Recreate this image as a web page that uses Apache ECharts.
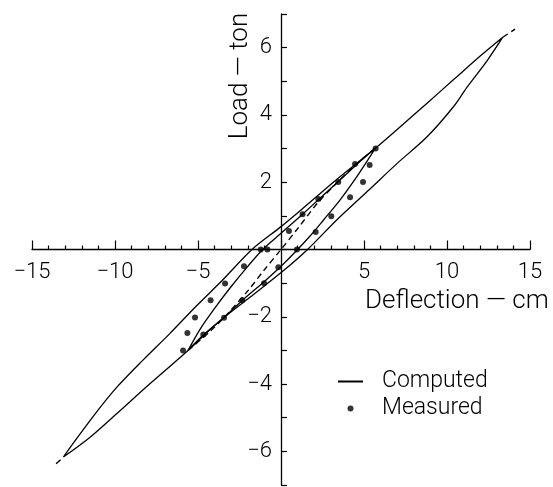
<!DOCTYPE html>
<html>
<head>
<meta charset="utf-8">
<script src="https://cdn.jsdelivr.net/npm/echarts@6/dist/echarts.min.js"></script>
<style>
  html, body { margin: 0; padding: 0; background: #fff; }
  #chart { width: 553px; height: 487px; }
</style>
</head>
<body>
<div id="chart"></div>
<script>
// computed loop, large cycle (deflection cm, load ton)
const outerUpper = [[-13.11,-6.17],[-12.5,-5.75],[-11.3,-4.95],[-9.9,-4.1],[-8.3,-3.28],[-6.7,-2.5],[-5.1,-1.68],[-3.5,-0.9],[-1.75,0],[0,0.68],[1.5,1.3],[3.55,2.16],[5.66,3.0],[7.0,3.57],[8.8,4.35],[10.4,5.05],[12.0,5.75],[13.36,6.31]];
const outerLower = [[13.36,6.31],[12.4,5.6],[11.2,4.82],[10.4,4.25],[8.8,3.35],[7.0,2.56],[5.36,1.8],[3.4,0.9],[1.6,0],[0.1,-0.65],[-1.87,-1.42],[-3.87,-2.2],[-5.6,-3.0],[-7.9,-3.99],[-9.9,-4.88],[-11.5,-5.58],[-13.11,-6.17]];

// computed loop, small cycle
const innerUpper = [[-5.6,-3.0],[-4.85,-2.35],[-4.0,-1.75],[-3.0,-1.1],[-2.0,-0.5],[-1.1,0],[0,0.48],[1.3,1.05],[2.3,1.5],[3.45,2.02],[4.5,2.5],[5.66,3.0]];
const innerLower = [[5.66,3.0],[5.36,2.76],[4.56,2.16],[3.55,1.47],[2.55,0.87],[1.75,0.4],[1.0,0],[0,-0.5],[-1.0,-0.95],[-2.3,-1.5],[-3.5,-2.05],[-4.7,-2.55],[-5.6,-3.0]];

// dashed backbone pieces
const dashMid = [[-5.6,-3.0],[-4.2,-2.4],[-3.2,-1.9],[-1.95,-1.2],[-1.0,-0.6],[0,0],[1.0,0.62],[2.2,1.38],[3.3,1.95],[4.4,2.48],[5.66,3.0]];
const dashLow = [[-13.55,-6.37],[-13.11,-6.17]];
const dashHigh = [[13.36,6.31],[14.1,6.55]];

// measured points
const measured = [[-5.9,-3.0],[-5.64,-2.48],[-5.18,-2.02],[-4.24,-1.51],[-3.37,-1.01],[-2.23,-0.5],[-1.22,0],[-0.82,0],[0.48,0.55],[1.3,1.05],[2.25,1.5],[3.45,2.01],[4.46,2.54],[5.7,3.0],[5.34,2.51],[4.94,2.01],[4.16,1.55],[3.03,0.99],[2.09,0.52],[0.96,0],[-0.16,-0.53],[-1.02,-1.0],[-2.33,-1.51],[-3.43,-2.03],[-4.68,-2.53]];

const font = 'Roboto';
const ink = '#000';

const W = 553, H = 487;
const grid = { left: 32, right: 23, top: 14, bottom: 2 };
const plotW = W - grid.left - grid.right;
const plotH = H - grid.top - grid.bottom;

const chart = echarts.init(document.getElementById('chart'));

const solid = (data) => ({
  name: 'Computed',
  type: 'line',
  data,
  symbol: 'none',
  smooth: 0.3,
  itemStyle: { color: ink },
  lineStyle: { color: ink, width: 1.3 },
  z: 3
});
const dashed = (data) => ({
  name: 'Backbone',
  type: 'line',
  data,
  symbol: 'none',
  smooth: 0.3,
  itemStyle: { color: ink },
  lineStyle: { color: ink, width: 1.4, type: [6, 4] },
  z: 4
});

chart.setOption({
  animation: false,
  backgroundColor: '#fff',
  grid,
  legend: {
    data: [
      { name: 'Computed', itemStyle: { opacity: 0 } },
      { name: 'Measured' }
    ],
    orient: 'vertical',
    left: 337,
    top: 370,
    padding: 0,
    itemWidth: 25,
    itemHeight: 6,
    itemGap: 4,
    textStyle: { fontFamily: font, fontWeight: 300, fontSize: 23, color: ink, padding: [0, 0, 0, 14] }
  },
  xAxis: {
    type: 'value',
    min: -15,
    max: 15,
    interval: 5,
    position: 'bottom',
    offset: -plotH / 2,
    axisLine: { onZero: false, lineStyle: { color: ink, width: 1.3 } },
    axisTick: { inside: true, length: 9, lineStyle: { color: ink, width: 1.2 } },
    minorTick: { show: true, splitNumber: 5, length: 4, lineStyle: { color: ink, width: 1.2 } },
    splitLine: { show: false },
    axisLabel: {
      margin: 12,
      fontFamily: font, fontWeight: 300, fontSize: 22, color: ink,
      formatter: v => v === 0 ? '' : String(v).replace('-', '−')
    }
  },
  yAxis: {
    type: 'value',
    min: -7,
    max: 7,
    interval: 1,
    position: 'left',
    offset: -plotW / 2,
    axisLine: { onZero: false, lineStyle: { color: ink, width: 1.3 } },
    axisTick: { inside: true, length: 6, lineStyle: { color: ink, width: 1.2 } },
    splitLine: { show: false },
    axisLabel: {
      margin: 9,
      fontFamily: font, fontWeight: 300, fontSize: 22, color: ink,
      formatter: v => (v === 0 || v % 2 !== 0) ? '' : String(v).replace('-', '−')
    }
  },
  graphic: [
    {
      type: 'text', left: 365, top: 288,
      style: { text: 'Deflection — cm', fontFamily: font, fontWeight: 300, fontSize: 26, fill: ink }
    },
    {
      type: 'text', x: 240, y: 76, rotation: Math.PI / 2,
      style: { text: 'Load — ton', fontFamily: font, fontWeight: 300, fontSize: 26, fill: ink, align: 'center', verticalAlign: 'middle' }
    }
  ],
  series: [
    solid(outerUpper.concat(outerLower)),
    solid(innerUpper.concat(innerLower)),
    dashed(dashMid),
    dashed(dashLow),
    dashed(dashHigh),
    {
      name: 'Measured',
      type: 'scatter',
      data: measured,
      symbol: 'circle',
      symbolSize: 6,
      itemStyle: { color: ink },
      z: 5
    }
  ]
});
</script>
</body>
</html>
